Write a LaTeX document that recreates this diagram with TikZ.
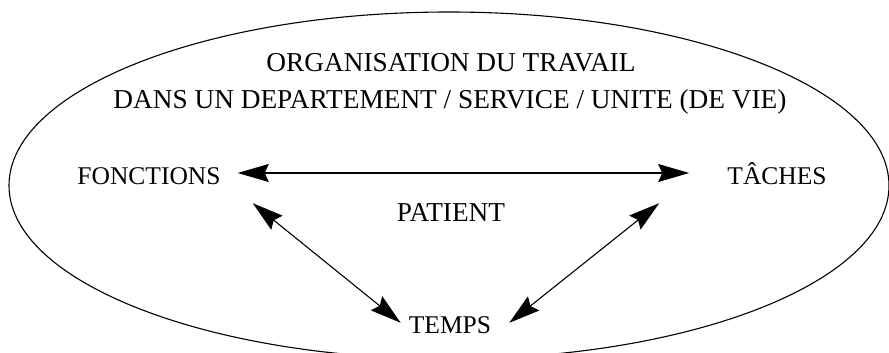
\documentclass[tikz,border=0pt]{standalone}
\usepackage{fontspec}
\setmainfont{Liberation Serif}
\usepackage{tikz}
\usetikzlibrary{positioning, arrows.meta}
\usepackage{xcolor}
\definecolor{InkBlack}{HTML}{000000}

\tikzset{
  label/.style={inner sep=0pt, text height=17pt, text depth=0pt, anchor=base,
                font=\fontsize{25.5}{30}\selectfont, text=InkBlack},
  big label/.style={label, font=\fontsize{27.3}{32}\selectfont},
  link/.style={InkBlack, line width=1.1pt,
               {Stealth[length=31pt, width=18pt, inset=4pt]}-{Stealth[length=31pt, width=18pt, inset=4pt]}}
}

\begin{document}
\begin{tikzpicture}[x=1pt, y=-1pt]
  \path[use as bounding box, clip] (0,0) rectangle (889,353);
  \fill[white] (0,0) rectangle (889,353);

  % outer frame
  \draw[InkBlack, line width=1.1pt] (449,185.5) ellipse [x radius=440pt, y radius=173.5pt];

  \node[big label] (titre) at (451,72) {ORGANISATION DU TRAVAIL};
  \node[big label] (lieu) at (450,108) {DANS UN DEPARTEMENT / SERVICE / UNITE (DE VIE)};

  \node[label] (fonctions) at (149,184) {FONCTIONS};
  \node[label] (taches) at (777,184) {TÂCHES};
  \node[big label] (patient) at (451,221) {PATIENT};
  \node[label] (temps) at (450,333) {TEMPS};

  \draw[link] ([shift={(17,-2.5)}]fonctions.east) -- ([shift={(-38,-2.5)}]taches.west);
  \draw[link] ([shift={(32,19)}]fonctions.south east) -- ([shift={(-8,7)}]temps.north west);
  \draw[link] ([shift={(-68,19)}]taches.south west) -- ([shift={(18,7)}]temps.north east);
\end{tikzpicture}
\end{document}
